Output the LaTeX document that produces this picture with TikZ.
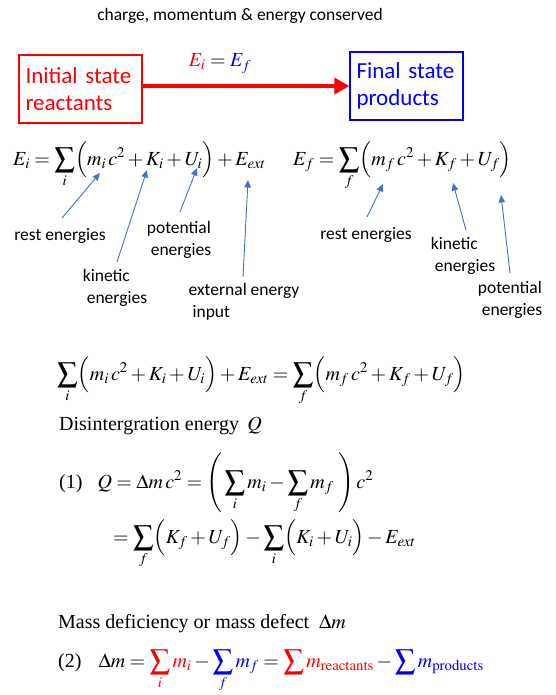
\documentclass[tikz,border=0pt]{standalone}
\usepackage{amsmath}
\usepackage{mathptmx}
\usepackage[no-math]{fontspec}
\setmainfont{Liberation Serif}
\newfontfamily\calibri{Carlito}
\usepackage{tikz}
\usetikzlibrary{arrows.meta, positioning, calc}
\definecolor{initred}{HTML}{FF0000}
\definecolor{finalblue}{HTML}{0000FF}
\definecolor{pointer}{HTML}{4472C4}
% a sum sign of the size the slides use
\newcommand{\tsum}{\mathop{\vcenter{\hbox{\fontsize{29}{30}\selectfont$\sum$}}}\limits}

\begin{document}
\begin{tikzpicture}[
  x=1pt, y=-1pt,
  statebox/.style={
    rectangle, line width=1.4pt, fill=white, align=left,
    minimum height=68pt, inner xsep=6.5pt,
    font=\calibri\fontsize{23}{27}\selectfont,
  },
  lbl/.style={font=\calibri\fontsize{17.5}{22}\selectfont, align=left, inner sep=0pt},
  eqn/.style={font=\fontsize{20}{24}\selectfont, anchor=base west, inner sep=0pt},
  ptr/.style={-{Triangle[length=7.5pt,width=6.5pt]}, line width=0.9pt, color=pointer},
]
  \useasboundingbox (0,0) rectangle (556,695);

  % title and the two states
  \node[lbl, anchor=base] (title) at (240,21) {charge, momentum \& energy conserved};
  \node[statebox, draw=initred, text=initred, text width=110pt] (initial) at (80.5,89) {Initial state\\reactants};
  \node[statebox, draw=finalblue, text=finalblue, text width=100pt] (final) at (406.5,86) {Final state\\products};
  \draw[-{Triangle[length=15pt,width=16pt]}, line width=3.5pt, initred] (initial.east |- final.west) -- (final.west);
  \node[eqn, anchor=base] (balance) at (220,67) {$\textcolor{initred}{E_i} = \textcolor{finalblue}{E_f}$};

  % energies on each side
  \node[eqn] (eini) at (13,165) {$E_i = \tsum_i \Bigl( m_i\, c^2 + K_i + U_i \Bigr) + E_{ext}$};
  \node[eqn] (efin) at (293,165) {$E_f = \tsum_f \Bigl( m_f\, c^2 + K_f + U_f \Bigr)$};

  \node[lbl] (restI) at (60,236) {rest energies};
  \node[lbl] (kinI) at (115,288) {kinetic\\\ energies};
  \node[lbl] (potI) at (179,240) {potential\\\ energies};
  \node[lbl] (extI) at (244,302) {external energy\\\ input};
  \node[lbl] (restF) at (366,235) {rest energies};
  \node[lbl] (kinF) at (463,256) {kinetic\\\ energies};
  \node[lbl] (potF) at (510,300) {potential\\\ energies};

  \coordinate (restItail) at (62,218);   \coordinate (restIhead) at (100,173);
  \coordinate (kinItail) at (117,262);   \coordinate (kinIhead) at (147,170);
  \coordinate (potItail) at (180,212);   \coordinate (potIhead) at (197,168);
  \coordinate (extItail) at (243,277);   \coordinate (extIhead) at (248,180);
  \coordinate (restFtail) at (367,217);  \coordinate (restFhead) at (383,184);
  \coordinate (kinFtail) at (466,230);   \coordinate (kinFhead) at (453,183);
  \coordinate (potFtail) at (510,273);   \coordinate (potFhead) at (501,195);

  \foreach \p in {restI, kinI, potI, extI, restF, kinF, potF}
    \draw[ptr] (\p tail) -- (\p head);

  % conservation, Q and mass defect
  \node[eqn] (cons) at (57,380) {$\tsum_i \Bigl( m_i\, c^2 + K_i + U_i \Bigr) + E_{ext} = \tsum_f \Bigl( m_f\, c^2 + K_f + U_f \Bigr)$};
  \node[eqn] (qhead) at (59,430) {Disintergration energy \,$Q$};
  \node[eqn] (qone) at (59,488) {(1)\hspace{15pt}$Q = \Delta m\, c^2 = \left(\, \tsum_i m_i - \tsum_f m_f \;\right) c^2$};
  \node[eqn] (qtwo) at (113,543) {$= \tsum_f \Bigl( K_f + U_f \Bigr) - \tsum_i \Bigl( K_i + U_i \Bigr) - E_{ext}$};
  \node[eqn] (mhead) at (58,628) {Mass deficiency or mass defect\enspace $\Delta m$};
  \node[eqn] (mtwo) at (58,667) {(2)\hspace{17pt}$\Delta m = \textcolor{initred}{\tsum_i m_i} - \textcolor{finalblue}{\tsum_f m_f} = \textcolor{initred}{\tsum m_{\mathrm{reactants}}} - \textcolor{finalblue}{\tsum m_{\mathrm{products}}}$};
\end{tikzpicture}
\end{document}
